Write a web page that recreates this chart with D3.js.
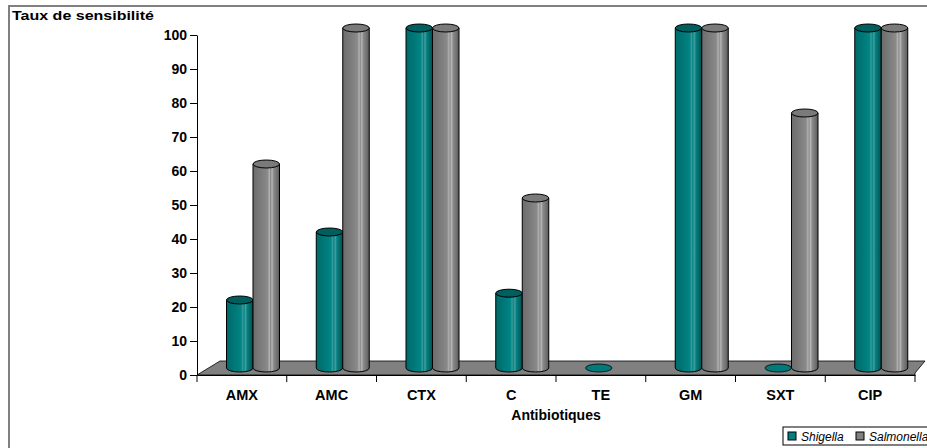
<!DOCTYPE html>
<html>
<head>
<meta charset="utf-8">
<script src="https://cdn.jsdelivr.net/npm/d3@7"></script>
<style>
  body { margin: 0; background: #fff; }
  svg text { font-family: Arial, "Liberation Sans", sans-serif; }
</style>
</head>
<body>
<svg id="chart" width="927" height="448"></svg>
<script>
// data
var categories = ["AMX", "AMC", "CTX", "C", "TE", "GM", "SXT", "CIP"];
var series = ["Shigella", "Salmonella"];
var shigella = [20, 40, 100, 22, 0, 100, 0, 100];
var salmonella = [60, 100, 100, 50, null, 100, 75, 100];
var yTicks = [0, 10, 20, 30, 40, 50, 60, 70, 80, 90, 100];

var svg = d3.select("#chart");

// frame
svg.append("path")
    .attr("d", "M9,450 L9,6 L930,6")
    .attr("fill", "none")
    .attr("stroke", "#808080")
    .attr("stroke-width", 2);

var x0 = d3.scaleBand().domain(categories).range([197, 915]);
var x1 = d3.scaleBand().domain(series).range([18, 71]);
var y = d3.scaleLinear().domain([0, 100]).range([375, 35]);

// depth of the floor and of the bar plane
var depth = {dx: 23, dy: -14};
var mid = {dx: 11.5, dy: -7};

// gradients for cylinders
var defs = svg.append("defs");
function addGrad(id, stops) {
    var g = defs.append("linearGradient").attr("id", id)
        .attr("x1", "0%").attr("x2", "100%").attr("y1", "0%").attr("y2", "0%");
    stops.forEach(function(s) {
        g.append("stop").attr("offset", s[0]).attr("stop-color", s[1]);
    });
}
addGrad("g-Shigella", [["0%", "#006a6a"], ["35%", "#007a7a"], ["55%", "#008585"],
    ["62%", "#3a9c9c"], ["66%", "#0c8282"], ["72%", "#3fa0a0"], ["78%", "#0a7e7e"],
    ["88%", "#006c6c"], ["100%", "#004e4e"]]);
addGrad("g-Salmonella", [["0%", "#6c6c6c"], ["35%", "#7e7e7e"], ["55%", "#8a8a8a"],
    ["62%", "#b2b2b2"], ["66%", "#8c8c8c"], ["72%", "#b6b6b6"], ["78%", "#8a8a8a"],
    ["88%", "#767676"], ["100%", "#5a5a5a"]]);
var topColor = {Shigella: "#005e5e", Salmonella: "#7a7a7a"};
var flatColor = {Shigella: "#007a7a", Salmonella: "#808080"};
var legendColor = {Shigella: "#008080", Salmonella: "#808080"};

// floor
var x0L = x0.range()[0], x0R = x0.range()[1], yb = y(0);
svg.append("path")
    .attr("d", "M" + x0L + "," + yb + " L" + (x0L + depth.dx) + "," + (yb + depth.dy) +
        " L" + (x0R + depth.dx - 13) + "," + (yb + depth.dy) +
        " L" + x0R + "," + (yb - 2) + " L" + x0R + "," + (yb) + " Z")
    .attr("fill", "#808080")
    .attr("stroke", "#000")
    .attr("stroke-width", 0.8);

// axes
var yAxis = d3.axisLeft(y).tickValues(yTicks).tickSize(7).tickSizeOuter(0);
var gy = svg.append("g").attr("transform", "translate(" + x0L + ",0)").call(yAxis);
gy.selectAll("text").attr("font-size", 14).attr("font-weight", "bold").attr("fill", "#000")
    .attr("x", -10);
gy.selectAll("line, path").attr("stroke", "#000");

var xAxis = d3.axisBottom(x0).tickSize(0).tickSizeOuter(0);
var gx = svg.append("g").attr("transform", "translate(0," + yb + ")").call(xAxis);
gx.selectAll("text").attr("font-size", 14.5).attr("font-weight", "bold").attr("fill", "#000")
    .attr("dy", 0).attr("y", 25);
gx.select(".domain").attr("stroke", "#000");
// category separator ticks
var sep = categories.map(function(c) { return x0(c); }).concat([x0R]);
gx.selectAll("line.sep").data(sep).enter().append("line")
    .attr("class", "sep")
    .attr("x1", function(d) { return d; }).attr("x2", function(d) { return d; })
    .attr("y1", 0).attr("y2", 7)
    .attr("stroke", "#000");

// bars as cylinders
var rows = [];
categories.forEach(function(c, i) {
    rows.push({cat: c, s: "Shigella", v: shigella[i]});
    rows.push({cat: c, s: "Salmonella", v: salmonella[i]});
});
rows = rows.filter(function(d) { return d.v !== null; });
// draw Shigella first so Salmonella sits over it
rows.sort(function(a, b) { return series.indexOf(a.s) - series.indexOf(b.s); });

var ry = 4;
var bars = svg.append("g").selectAll("g").data(rows).enter().append("g");
bars.each(function(d) {
    var g = d3.select(this);
    var left = x0(d.cat) + x1(d.s) + mid.dx;
    var w = x1.bandwidth();
    var rx = w / 2;
    var cx = left + rx;
    var bot = y(0) + mid.dy;
    var top = y(d.v) + mid.dy;
    if (d.v === 0) {
        g.append("ellipse")
            .attr("cx", cx).attr("cy", bot).attr("rx", rx).attr("ry", ry)
            .attr("fill", flatColor[d.s]).attr("stroke", "#000").attr("stroke-width", 0.8);
        return;
    }
    g.append("path")
        .attr("d", "M" + left + "," + top + " L" + left + "," + bot +
            " A" + rx + "," + ry + " 0 0 0 " + (left + w) + "," + bot +
            " L" + (left + w) + "," + top + " Z")
        .attr("fill", "url(#g-" + d.s + ")")
        .attr("stroke", "#000").attr("stroke-width", 1);
    g.append("ellipse")
        .attr("cx", cx).attr("cy", top).attr("rx", rx).attr("ry", ry)
        .attr("fill", topColor[d.s]).attr("stroke", "#000").attr("stroke-width", 1);
});

// titles
svg.append("text").attr("x", 12).attr("y", 20)
    .attr("font-size", 13).attr("font-weight", "bold")
    .attr("textLength", 142).attr("lengthAdjust", "spacingAndGlyphs")
    .text("Taux de sensibilité");
svg.append("text").attr("x", (x0L + x0R) / 2).attr("y", 420)
    .attr("text-anchor", "middle")
    .attr("font-size", 14).attr("font-weight", "bold").text("Antibiotiques");

// legend
var lg = svg.append("g").attr("transform", "translate(783,427)");
lg.append("rect").attr("x", 0).attr("y", 0).attr("width", 170).attr("height", 18)
    .attr("fill", "#fff").attr("stroke", "#000").attr("stroke-width", 1);
var legX = [5, 73];
series.forEach(function(s, i) {
    lg.append("rect").attr("x", legX[i]).attr("y", 5).attr("width", 8).attr("height", 8)
        .attr("fill", legendColor[s])
        .attr("stroke", "#000").attr("stroke-width", 1);
    lg.append("text").attr("x", legX[i] + 13).attr("y", 14)
        .attr("font-size", 12).attr("font-style", "italic").text(s);
});
</script>
</body>
</html>
